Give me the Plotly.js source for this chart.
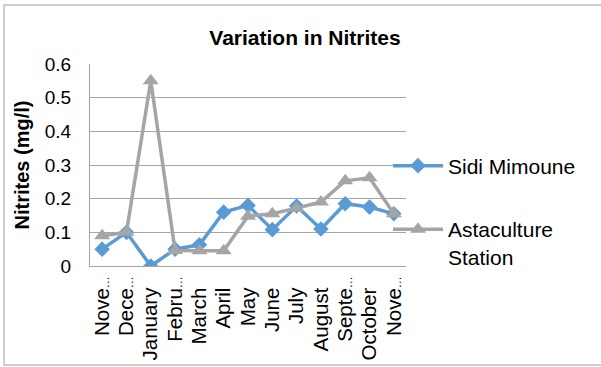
<!DOCTYPE html>
<html>
<head>
<meta charset="utf-8">
<script src="https://cdn.plot.ly/plotly-3.0.1.min.js"></script>
<style>html,body{margin:0;padding:0;background:#fff;}#chart{width:601px;height:367px;}</style>
</head>
<body>
<div id="chart"></div>
<script>
var months = ["Nove\u2026", "Dece\u2026", "January", "Febru\u2026", "March", "April", "May", "June", "July", "August", "Septe\u2026", "October", "Nove\u2026"];
var sidiMimoune = [0.05, 0.10, 0.00, 0.05, 0.063, 0.16, 0.18, 0.108, 0.178, 0.11, 0.185, 0.175, 0.155];
var astaculture = [0.09, 0.10, 0.55, 0.046, 0.045, 0.045, 0.148, 0.155, 0.172, 0.19, 0.253, 0.262, 0.155];
var yTicks = [0, 0.1, 0.2, 0.3, 0.4, 0.5, 0.6];
var yTickText = ["0", "0.1", "0.2", "0.3", "0.4", "0.5", "0.6"];

var FONT = "Liberation Sans, Arial, sans-serif";
var W = 601, H = 367, L = 90, R = 195, T = 64, B = 101;
var pw = W - L - R, ph = H - T - B;
function px2x(p) { return (p - L) / pw; }
function px2y(p) { return 1 - (p - T) / ph; }

var idx = months.map(function (_, i) { return i; });
// Excel lets the truncation ellipsis overflow toward the axis; emulate with a small ellipsis / padding
var monthLabels = months.map(function (m) {
  if (m.indexOf("\u2026") >= 0) {
    return m.replace("\u2026", '<span style="font-size:12px">\u2026</span>');
  }
  return m + "\u00A0\u00A0";
});

var traces = [
  {
    x: idx, y: sidiMimoune, type: "scatter", mode: "lines+markers",
    name: "Sidi Mimoune", legend: "legend",
    line: { color: "#5B9BD5", width: 3.5 },
    marker: { symbol: "diamond", size: 12, color: "#5B9BD5" }
  },
  {
    x: idx, y: astaculture, type: "scatter", mode: "lines+markers",
    name: "Astaculture<br>Station", legend: "legend2",
    line: { color: "#A5A5A5", width: 3.5 },
    marker: { symbol: "triangle-up", size: 14, color: "#A5A5A5" }
  }
];

var layout = {
  width: W, height: H,
  margin: { l: L, r: R, t: T, b: B, pad: 0 },
  paper_bgcolor: "#ffffff", plot_bgcolor: "#ffffff",
  font: { family: FONT, color: "#000000", size: 18 },
  title: {
    text: "<b>Variation in Nitrites</b>",
    font: { family: FONT, size: 21, color: "#000" },
    x: 305 / W, xref: "container", xanchor: "center",
    y: 1 - 38 / H, yref: "container", yanchor: "middle"
  },
  xaxis: {
    range: [-0.5, 12.5], tickmode: "array", tickvals: idx, ticktext: monthLabels,
    tickangle: -90, tickfont: { family: FONT, size: 20.5, color: "#000" },
    showgrid: false, zeroline: false, showline: true, linecolor: "#A6A6A6", linewidth: 1,
    ticks: "", ticklabelstandoff: 1, fixedrange: true
  },
  yaxis: {
    range: [0, 0.6], tickmode: "array", tickvals: yTicks, ticktext: yTickText,
    tickfont: { family: FONT, size: 19, color: "#000" },
    showgrid: true, gridcolor: "#A6A6A6", gridwidth: 1, zeroline: false,
    showline: true, linecolor: "#A6A6A6", linewidth: 1, ticks: "", ticklabelstandoff: 14,
    title: { text: "<b>Nitrites (mg/l)</b>", font: { family: FONT, size: 20, color: "#000" }, standoff: 9 },
    automargin: false, fixedrange: true
  },
  legend: {
    x: px2x(388), xanchor: "left", y: px2y(166), yanchor: "middle",
    font: { family: FONT, size: 21, color: "#000" }, bgcolor: "rgba(0,0,0,0)",
    borderwidth: 0, itemwidth: 50
  },
  legend2: {
    x: px2x(388), xanchor: "left", y: px2y(243), yanchor: "middle",
    font: { family: FONT, size: 21, color: "#000" }, bgcolor: "rgba(0,0,0,0)",
    borderwidth: 0, itemwidth: 50, valign: "top"
  },
  shapes: [
    { type: "rect", xref: "paper", yref: "paper",
      x0: px2x(4), x1: px2x(603), y0: px2y(365), y1: px2y(5),
      line: { color: "#BFBFBF", width: 1.5 }, fillcolor: "rgba(0,0,0,0)", layer: "below" }
  ],
  showlegend: true
};

Plotly.newPlot("chart", traces, layout, { displayModeBar: false, staticPlot: true });
</script>
</body>
</html>
